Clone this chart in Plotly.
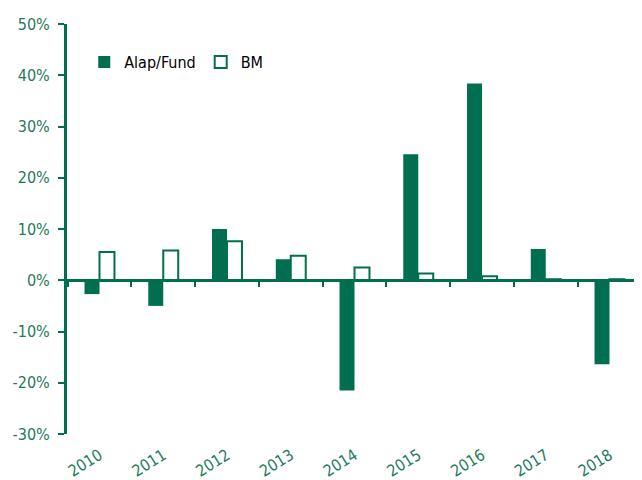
import plotly.graph_objects as go

years = ["2010", "2011", "2012", "2013", "2014", "2015", "2016", "2017", "2018"]
alap = [-2.7, -5.0, 10.0, 4.1, -21.5, 24.6, 38.4, 6.1, -16.4]
bm = [5.5, 5.8, 7.6, 4.8, 2.5, 1.3, 0.8, 0.2, 0.2]
y_ticks = [-30, -20, -10, 0, 10, 20, 30, 40, 50]
y_labels = [f"{v}%" for v in y_ticks]

green = "#006E4F"
label_green = "#1F7A5A"
font_family = "'DejaVu Sans Condensed', 'Liberation Sans Narrow', sans-serif"

fig = go.Figure()
fig.add_trace(go.Bar(x=years, y=alap, name="Alap/Fund",
                     marker=dict(color=green, line=dict(color=green, width=0))))
fig.add_trace(go.Bar(x=years, y=bm, name="BM",
                     marker=dict(color="white", line=dict(color=green, width=2))))
# invisible trace to carry the bottom label axis
fig.add_trace(go.Scatter(x=years, y=[None] * len(years), xaxis="x2",
                         showlegend=False, hoverinfo="skip", mode="markers"))

fig.update_layout(
    width=634, height=472,
    margin=dict(l=59, r=0, t=16, b=46, autoexpand=False),
    paper_bgcolor="white", plot_bgcolor="white",
    barmode="group", bargap=0.53, bargroupgap=0,
    font=dict(family=font_family, size=16, color=label_green),
    legend=dict(orientation="h", x=0.03, y=0.907, xanchor="left", yanchor="middle",
                font=dict(color="black", size=16, family=font_family),
                bgcolor="rgba(0,0,0,0)", itemwidth=30, tracegroupgap=0),
    xaxis=dict(type="category", anchor="free", position=0.375, automargin=False,
               showline=True, linecolor=green, linewidth=3,
               ticks="outside", tickson="boundaries", ticklen=5, tickwidth=1.5,
               tickcolor=green, showticklabels=False, showgrid=False, zeroline=False),
    xaxis2=dict(type="category", overlaying="x", matches="x", side="bottom",
                anchor="y", showline=False, ticks="", showgrid=False, automargin=False,
                ticklabelstandoff=8,
                tickangle=-32, tickfont=dict(size=16, color=label_green, family=font_family)),
    yaxis=dict(range=[-30, 50], tickvals=y_ticks, ticktext=y_labels, automargin=False,
               showline=True, linecolor=green, linewidth=3,
               ticks="outside", ticklen=6, tickwidth=2, tickcolor=green,
               showgrid=False, zeroline=False, ticklabelstandoff=5,
               tickfont=dict(size=16, color=label_green, family=font_family)),
)

fig.write_html("out.html")
